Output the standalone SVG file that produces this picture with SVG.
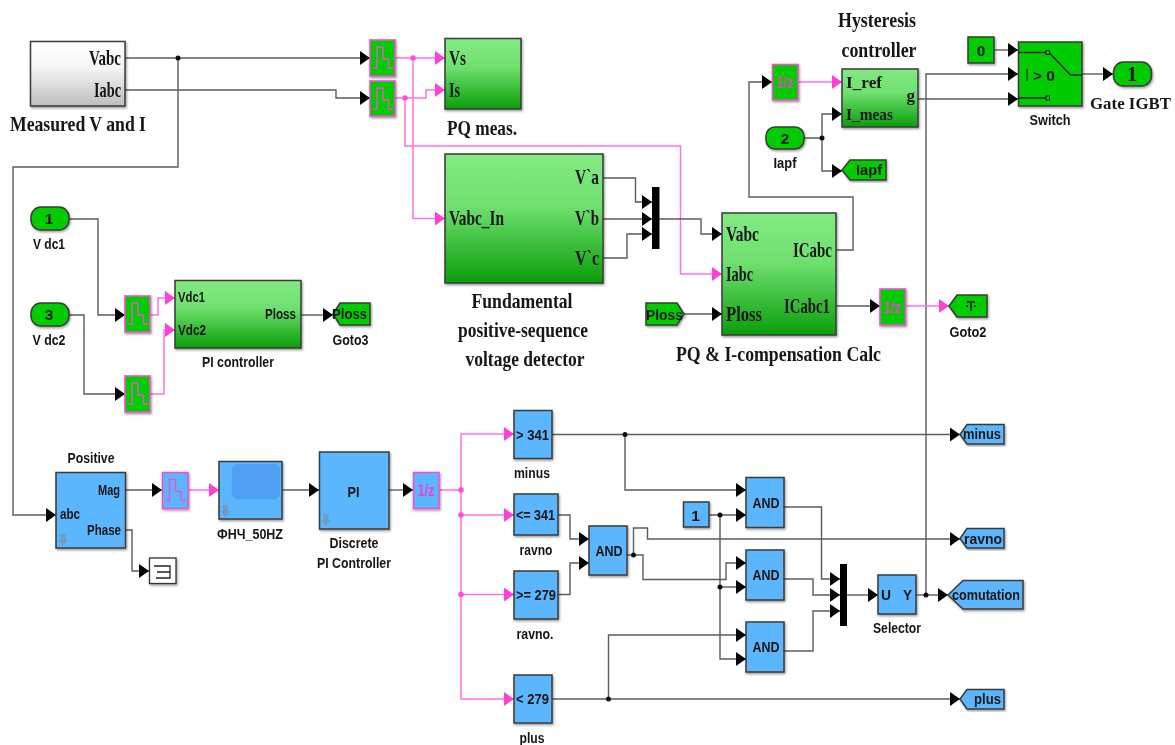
<svg xmlns="http://www.w3.org/2000/svg" xmlns:xlink="http://www.w3.org/1999/xlink" width="1175" height="745" viewBox="0 0 1175 745">
<style>
.b{stroke:#3a3a3a;stroke-width:1.5}
.g{fill:url(#gg)}
.w{fill:url(#gw)}
.u{fill:#5cb6fd}
.c{fill:#00cc00}
.zb{stroke:#f050d0;stroke-width:1.6}
.sh{filter:url(#ds)}
.l{fill:none;stroke:#5c5c5c;stroke-width:1.4;marker-end:url(#ak)}
.n{fill:none;stroke:#5c5c5c;stroke-width:1.4}
.p{fill:none;stroke:#ff70e0;stroke-width:1.5;marker-end:url(#ap)}
.q{fill:none;stroke:#ff70e0;stroke-width:1.5}
.j{fill:#111}
.k{fill:#ff50d8}
text{fill:#161616}
.s{font-family:"Liberation Serif",serif;font-weight:700;font-size:21px}
.s2{font-size:17px}
.a{font-family:"Liberation Sans",Arial,sans-serif;font-weight:700;font-size:15.500px}
.m{fill:#f040d0;font-size:17px}
.e{text-anchor:end}
.h{text-anchor:middle}
</style>
<defs>
<linearGradient id="gg" x1="0" y1="0" x2="0" y2="1"><stop offset="0" stop-color="#82ea82"/><stop offset=".4" stop-color="#70e070"/><stop offset="1" stop-color="#0a9e0a"/></linearGradient>
<linearGradient id="gw" x1="0" y1="0" x2="0" y2="1"><stop offset="0" stop-color="#ffffff"/><stop offset=".4" stop-color="#f6f6f6"/><stop offset="1" stop-color="#bdbdbd"/></linearGradient>
<filter id="ds" x="-10%" y="-10%" width="125%" height="125%"><feDropShadow dx="1" dy="1.5" stdDeviation="1" flood-color="#000" flood-opacity=".4"/></filter>
<filter id="soft" x="0" y="0" width="100%" height="100%" filterUnits="userSpaceOnUse" primitiveUnits="userSpaceOnUse"><feGaussianBlur stdDeviation="0.45"/></filter>
<marker id="ak" markerUnits="userSpaceOnUse" markerWidth="11" markerHeight="15" refX="10" refY="7" orient="auto"><path d="M0 0L10 7L0 14Z" fill="#000"/></marker>
<marker id="ap" markerUnits="userSpaceOnUse" markerWidth="11" markerHeight="15" refX="10" refY="7" orient="auto"><path d="M0 0L10 7L0 14Z" fill="#ff40d4"/></marker>
<path id="zg" d="M3.500 28H7V7H13V19H18.500V28H23" fill="none" stroke="#f050d0" stroke-width="1.400"/>
<path id="dn" d="M-2.500 -6H2.500V0H5L0 6L-5 0H-2.500Z" fill="#6f9cc4"/>
</defs>
<rect width="1175" height="745" fill="#fff"/>
<g filter="url(#soft)">
<g id="connectors">
<path class="n" d="M125 58H178"/>
<path class="l" d="M178 58H370"/>
<path class="l" d="M178 58V167H13V515H56"/>
<path class="l" d="M125 90H336V98H370"/>
<path class="p" d="M395 58H445"/>
<path class="p" d="M413 58V218.500H445"/>
<path class="p" d="M395 98H426V90H445"/>
<path class="p" d="M405 98V146H680.500V274H722"/>
<path class="l" d="M603 178H635.500V202H652"/>
<path class="l" d="M603 219H652"/>
<path class="l" d="M603 258H627V234H652"/>
<path class="l" d="M659 219H701V234H722"/>
<path class="l" d="M684 314H722"/>
<path class="l" d="M836 250H853V197H749V82H772"/>
<path class="p" d="M798 82H842"/>
<path class="l" d="M804 138H822V114H842"/>
<path class="l" d="M822 138V171H842"/>
<path class="l" d="M918 99H1018"/>
<path class="l" d="M994 50H1018"/>
<path class="l" d="M926 595V74H1018"/>
<path class="l" d="M1082 74H1113"/>
<path class="l" d="M836 306H880"/>
<path class="p" d="M905 306H949"/>
<path class="l" d="M69 219H98V315H125"/>
<path class="l" d="M69 315H84V394H125"/>
<path class="p" d="M150 315H158V298H175"/>
<path class="p" d="M150 394H164V330H175"/>
<path class="l" d="M301 315H333"/>
<path class="l" d="M125 490H162"/>
<path class="p" d="M188 490H219"/>
<path class="l" d="M282 490H319"/>
<path class="l" d="M389 490H413"/>
<path class="l" d="M125 530H132V571H149"/>
<path class="q" d="M439 490H461"/>
<path class="p" d="M461 490V434H514"/>
<path class="p" d="M461 490V699H514"/>
<path class="p" d="M461 515H514"/>
<path class="p" d="M461 594.500H514"/>
<path class="l" d="M552 434.500H960"/>
<path class="l" d="M625 434.500V490H746"/>
<path class="l" d="M709 515H746"/>
<path class="l" d="M720 515V659H746"/>
<path class="l" d="M720 587H746"/>
<path class="l" d="M558 515H570V539H589"/>
<path class="l" d="M558 594.500H570V563H589"/>
<path class="l" d="M627 555H643V579.500H726V563H746"/>
<path class="l" d="M633.500 555V528H647.500V539H960"/>
<path class="l" d="M784 507H821.500V579H840"/>
<path class="l" d="M784 579H813V595H840"/>
<path class="l" d="M784 651H813V611H840"/>
<path class="l" d="M847 595H878"/>
<path class="n" d="M916 595H926"/>
<path class="l" d="M926 595H948"/>
<path class="l" d="M552 699H960"/>
<path class="l" d="M608.500 699V635H746"/>
<circle class="j" cx="178" cy="58" r="2.500"/>
<circle class="k" cx="413" cy="58" r="2.800"/>
<circle class="k" cx="405" cy="98" r="2.800"/>
<circle class="j" cx="822" cy="138" r="2.500"/>
<circle class="k" cx="461" cy="490" r="2.800"/>
<circle class="k" cx="461" cy="515" r="2.800"/>
<circle class="k" cx="461" cy="594.500" r="2.800"/>
<circle class="j" cx="625" cy="434.500" r="2.500"/>
<circle class="j" cx="720" cy="515" r="2.500"/>
<circle class="j" cx="720" cy="587" r="2.500"/>
<circle class="j" cx="633.500" cy="555" r="2.500"/>
<circle class="j" cx="926" cy="595" r="2.500"/>
<circle class="j" cx="608.500" cy="699" r="2.500"/>
</g>
<g id="measured"><rect class="w b sh" x="30.500" y="41.500" width="94.500" height="64.500"/><text class="s e" x="121" y="65" textLength="32" lengthAdjust="spacingAndGlyphs">Vabc</text><text class="s e" x="121" y="97" textLength="27" lengthAdjust="spacingAndGlyphs">Iabc</text><text class="s" x="10" y="131" textLength="136" lengthAdjust="spacingAndGlyphs">Measured V and I</text></g>
<g id="zoh1"><rect class="c zb sh" x="370" y="40" width="25" height="36"/><use href="#zg" x="370" y="40"/></g>
<g id="zoh2"><rect class="c zb sh" x="370" y="81" width="25" height="35"/><use href="#zg" x="370" y="81"/></g>
<g id="pqmeas"><rect class="g b sh" x="445" y="38.500" width="76" height="70.500"/><text class="s" x="449" y="65" textLength="17" lengthAdjust="spacingAndGlyphs">Vs</text><text class="s" x="449" y="97" textLength="11" lengthAdjust="spacingAndGlyphs">Is</text><text class="s" x="447" y="135" textLength="70" lengthAdjust="spacingAndGlyphs">PQ meas.</text></g>
<g id="fundamental"><rect class="g b sh" x="445" y="154" width="158" height="129"/><text class="s" x="449" y="225" textLength="55" lengthAdjust="spacingAndGlyphs">Vabc_In</text><text class="s e" x="599" y="184" textLength="24" lengthAdjust="spacingAndGlyphs">V`a</text><text class="s e" x="599" y="225" textLength="24" lengthAdjust="spacingAndGlyphs">V`b</text><text class="s e" x="599" y="265" textLength="24" lengthAdjust="spacingAndGlyphs">V`c</text><text class="s h" x="522" y="308" textLength="101" lengthAdjust="spacingAndGlyphs">Fundamental</text><text class="s h" x="523" y="337" textLength="130" lengthAdjust="spacingAndGlyphs">positive-sequence</text><text class="s h" x="525" y="366" textLength="119" lengthAdjust="spacingAndGlyphs">voltage detector</text></g>
<g id="mux1"><rect x="652" y="187" width="7.500" height="62" fill="#000"/></g>
<g id="pqcalc"><rect class="g b sh" x="722" y="213" width="114" height="122"/><text class="s" x="726" y="241" textLength="33" lengthAdjust="spacingAndGlyphs">Vabc</text><text class="s" x="726" y="281" textLength="27" lengthAdjust="spacingAndGlyphs">Iabc</text><text class="s" x="726" y="321" textLength="36" lengthAdjust="spacingAndGlyphs">Ploss</text><text class="s e" x="832" y="257" textLength="39" lengthAdjust="spacingAndGlyphs">ICabc</text><text class="s e" x="830" y="313" textLength="46" lengthAdjust="spacingAndGlyphs">ICabc1</text><text class="s" x="676" y="361" textLength="205" lengthAdjust="spacingAndGlyphs">PQ &amp; I-compensation Calc</text></g>
<g id="plossfrom"><path class="c b sh" d="M646 303H677L684 314L677 325H646Z"/><text class="a" x="646" y="320" textLength="37" lengthAdjust="spacingAndGlyphs">Ploss</text></g>
<g id="ud1"><rect class="c zb sh" x="772.500" y="64.500" width="25.500" height="35.500"/><text class="a m h" x="785" y="88" textLength="17" lengthAdjust="spacingAndGlyphs">1/z</text></g>
<g id="hysteresis"><rect class="g b sh" x="842" y="69" width="76" height="58"/><text class="s s2" x="846" y="88" textLength="36" lengthAdjust="spacingAndGlyphs">I_ref</text><text class="s s2" x="846" y="120" textLength="47" lengthAdjust="spacingAndGlyphs">I_meas</text><text class="s s2 e" x="915" y="101">g</text><text class="s h" x="877" y="27" textLength="78" lengthAdjust="spacingAndGlyphs">Hysteresis</text><text class="s h" x="879" y="57" textLength="75" lengthAdjust="spacingAndGlyphs">controller</text></g>
<g id="iapf"><rect class="c b sh" x="766" y="127" width="38" height="22" rx="9"/><text class="a h" x="785" y="144">2</text><text class="a h" x="785" y="168" textLength="23" lengthAdjust="spacingAndGlyphs">Iapf</text></g>
<g id="gotoiapf"><path class="c b sh" d="M886 160V180H850L842 170L850 160Z"/><text class="a" x="856" y="175" textLength="26" lengthAdjust="spacingAndGlyphs">Iapf</text></g>
<g id="const0"><rect class="c b sh" x="968" y="37" width="26" height="26"/><text class="a h" x="981" y="56">0</text></g>
<g id="switch"><rect class="c b sh" x="1018.500" y="42" width="63.500" height="64"/><path d="M1018 52.500H1046M1018 98H1046M1049 52.500L1070.500 75H1082" fill="none" stroke="#222" stroke-width="1.400"/><rect x="1046" y="50.500" width="3.500" height="4" fill="none" stroke="#222"/><rect x="1046" y="96" width="3.500" height="4" fill="none" stroke="#222"/><path d="M1027 69V81" stroke="#222" stroke-width="1.200"/><text class="a" x="1033" y="81">&gt; 0</text><text class="a h" x="1050" y="125" textLength="41" lengthAdjust="spacingAndGlyphs">Switch</text></g>
<g id="gate"><rect class="c b sh" x="1113.500" y="62" width="38" height="24" rx="10"/><text class="s h" x="1132" y="81">1</text><text class="s s2" x="1090" y="109" textLength="81" lengthAdjust="spacingAndGlyphs">Gate IGBT</text></g>
<g id="ud2"><rect class="c zb sh" x="880" y="289" width="25.500" height="36"/><text class="a m h" x="892.500" y="313" textLength="17" lengthAdjust="spacingAndGlyphs">1/z</text></g>
<g id="goto2"><path class="c b sh" d="M987 295V317H957L949 306L957 295Z"/><path d="M967 302H975M971 302V311M966 306H968M974 306H976" stroke="#111" stroke-width="1.600" fill="none"/><text class="a h" x="968" y="337" textLength="37" lengthAdjust="spacingAndGlyphs">Goto2</text></g>
<g id="vdc1"><rect class="c b sh" x="31" y="207" width="38" height="23" rx="10"/><text class="a h" x="49" y="224">1</text><text class="a h" x="49" y="249" textLength="32" lengthAdjust="spacingAndGlyphs">V dc1</text></g>
<g id="vdc2"><rect class="c b sh" x="31" y="303" width="38" height="23" rx="10"/><text class="a h" x="49" y="320">3</text><text class="a h" x="49" y="345" textLength="33" lengthAdjust="spacingAndGlyphs">V dc2</text></g>
<g id="zoh3"><rect class="c zb sh" x="125" y="296" width="25" height="36"/><use href="#zg" x="125" y="296"/></g>
<g id="zoh4"><rect class="c zb sh" x="125" y="376" width="25" height="36"/><use href="#zg" x="125" y="376"/></g>
<g id="picontroller"><rect class="g b sh" x="175" y="280.500" width="126" height="67.500"/><text class="a" x="178" y="302" textLength="27" lengthAdjust="spacingAndGlyphs">Vdc1</text><text class="a" x="178" y="335" textLength="28" lengthAdjust="spacingAndGlyphs">Vdc2</text><text class="a e" x="296" y="319" textLength="31" lengthAdjust="spacingAndGlyphs">Ploss</text><text class="a h" x="238" y="367" textLength="72" lengthAdjust="spacingAndGlyphs">PI controller</text></g>
<g id="goto3"><path class="c b sh" d="M370 303V325H340L333 314L340 303Z"/><text class="a" x="332" y="319" textLength="35" lengthAdjust="spacingAndGlyphs">Ploss</text><text class="a h" x="350.500" y="345" textLength="36" lengthAdjust="spacingAndGlyphs">Goto3</text></g>
<g id="positive"><rect class="u b sh" x="56" y="472.500" width="69.500" height="75.500"/><text class="a" x="60" y="519" textLength="20" lengthAdjust="spacingAndGlyphs">abc</text><text class="a e" x="120" y="495" textLength="22" lengthAdjust="spacingAndGlyphs">Mag</text><text class="a e" x="121" y="535" textLength="34" lengthAdjust="spacingAndGlyphs">Phase</text><use href="#dn" x="63" y="540"/><text class="a h" x="91" y="463" textLength="47" lengthAdjust="spacingAndGlyphs">Positive</text></g>
<g id="zoh5"><rect class="u zb sh" x="162.500" y="472.500" width="25.500" height="36"/><use href="#zg" x="162.500" y="472.500"/></g>
<g id="filter"><rect class="u b sh" x="219" y="461.500" width="63" height="57.500"/><rect x="232" y="464" width="48" height="35" rx="6" fill="#4f9ff5"/><use href="#dn" x="225.500" y="511"/><text class="a h" x="250" y="539" textLength="66" lengthAdjust="spacingAndGlyphs">ФНЧ_50HZ</text></g>
<g id="pi"><rect class="u b sh" x="319.500" y="452" width="69.500" height="77"/><text class="a h" x="353.500" y="497" textLength="12" lengthAdjust="spacingAndGlyphs">PI</text><use href="#dn" x="326" y="520"/><text class="a h" x="354" y="548" textLength="49" lengthAdjust="spacingAndGlyphs">Discrete</text><text class="a h" x="354" y="568" textLength="74" lengthAdjust="spacingAndGlyphs">PI Controller</text></g>
<g id="ud3"><rect class="u zb sh" x="413.500" y="472.500" width="25.500" height="36"/><text class="a m h" x="426" y="496" textLength="17" lengthAdjust="spacingAndGlyphs">1/z</text></g>
<g id="terminator"><rect x="149.500" y="558" width="26.500" height="25.500" fill="#fff" stroke="#333" stroke-width="1.300" class="sh"/><path d="M154 566H170V578H156M157 572H170" fill="none" stroke="#222" stroke-width="1.300"/></g>
<g id="cmp1"><rect class="u b sh" x="514" y="410.500" width="38" height="48"/><text class="a" x="516" y="440" textLength="33" lengthAdjust="spacingAndGlyphs">&gt; 341</text><text class="a h" x="532" y="478" textLength="36" lengthAdjust="spacingAndGlyphs">minus</text></g>
<g id="cmp2"><rect class="u b sh" x="514" y="494" width="44" height="41"/><text class="a" x="516" y="520" textLength="39" lengthAdjust="spacingAndGlyphs">&lt;= 341</text><text class="a h" x="536" y="555" textLength="33" lengthAdjust="spacingAndGlyphs">ravno</text></g>
<g id="cmp3"><rect class="u b sh" x="514" y="571" width="44" height="48"/><text class="a" x="516" y="600" textLength="40" lengthAdjust="spacingAndGlyphs">&gt;= 279</text><text class="a h" x="535" y="639" textLength="37" lengthAdjust="spacingAndGlyphs">ravno.</text></g>
<g id="cmp4"><rect class="u b sh" x="514" y="675" width="38" height="48"/><text class="a" x="516" y="704" textLength="33" lengthAdjust="spacingAndGlyphs">&lt; 279</text><text class="a h" x="532" y="743" textLength="25" lengthAdjust="spacingAndGlyphs">plus</text></g>
<g id="gotominus"><path class="u b sh" d="M1004 424.500V444H967L960 434.500L967 424.500Z"/><text class="a" x="963" y="439" textLength="38" lengthAdjust="spacingAndGlyphs">minus</text></g>
<g id="gotoravno"><path class="u b sh" d="M1004 528.500V548H967L960 538.500L967 528.500Z"/><text class="a" x="964" y="544" textLength="38" lengthAdjust="spacingAndGlyphs">ravno</text></g>
<g id="gotoplus"><path class="u b sh" d="M1004 689.500V709H967L960 699L967 689.500Z"/><text class="a" x="974" y="704" textLength="27" lengthAdjust="spacingAndGlyphs">plus</text></g>
<g id="gotocom"><path class="u b sh" d="M1023 580.500V609H963L948 595L963 580.500Z"/><text class="a" x="952" y="600" textLength="68" lengthAdjust="spacingAndGlyphs">comutation</text></g>
<g id="and1"><rect class="u b sh" x="746" y="477.500" width="38" height="50"/><text class="a h" x="766" y="508" textLength="27" lengthAdjust="spacingAndGlyphs">AND</text></g>
<g id="and2"><rect class="u b sh" x="746" y="550" width="38" height="50"/><text class="a h" x="766" y="580" textLength="27" lengthAdjust="spacingAndGlyphs">AND</text></g>
<g id="and3"><rect class="u b sh" x="746" y="622" width="38" height="50"/><text class="a h" x="766" y="652" textLength="27" lengthAdjust="spacingAndGlyphs">AND</text></g>
<g id="andm"><rect class="u b sh" x="589" y="526" width="38" height="49"/><text class="a h" x="609" y="556" textLength="27" lengthAdjust="spacingAndGlyphs">AND</text></g>
<g id="const1"><rect class="u b sh" x="683.500" y="502" width="25.500" height="25"/><text class="a h" x="695.500" y="521">1</text></g>
<g id="mux2"><rect x="840" y="564" width="7" height="62" fill="#000"/></g>
<g id="selector"><rect class="u b sh" x="878" y="575" width="38" height="39"/><text class="a" x="881" y="600" textLength="10" lengthAdjust="spacingAndGlyphs">U</text><text class="a" x="903" y="600" textLength="9" lengthAdjust="spacingAndGlyphs">Y</text><text class="a h" x="897" y="633" textLength="48" lengthAdjust="spacingAndGlyphs">Selector</text></g>
</g>
</svg>
